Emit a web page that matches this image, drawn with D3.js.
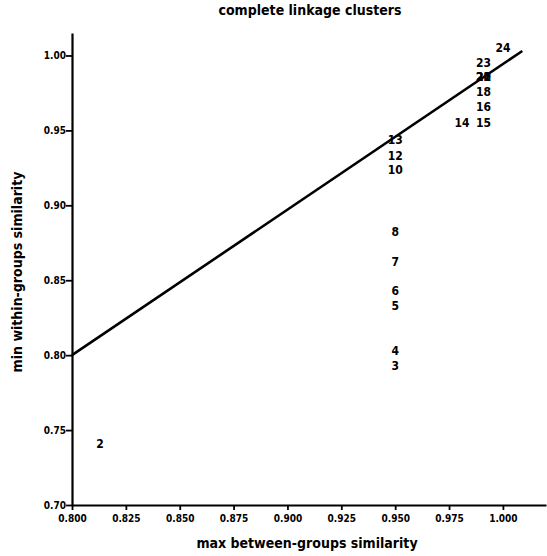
<!DOCTYPE html>
<html>
<head>
<meta charset="utf-8">
<script src="https://cdn.jsdelivr.net/npm/d3@7"></script>
<style>
  body { margin: 0; background: #fff; }
  svg text { font-family: "DejaVu Sans", "Liberation Sans", sans-serif; font-stretch: condensed; font-weight: bold; fill: #000; }
</style>
</head>
<body>
<div id="vis"></div>
<script>
// number of clusters, and the similarity pair
const clusterLabels = ["2", "3", "4", "5", "6", "7", "8", "10", "12", "13", "14", "15", "16", "18", "20", "21", "22", "23", "24"];
const maxBetween = [0.813, 0.950, 0.950, 0.950, 0.950, 0.950, 0.950, 0.950, 0.950, 0.950, 0.981, 0.991, 0.991, 0.991, 0.991, 0.991, 0.991, 0.991, 1.000];
const minWithin = [0.741, 0.793, 0.803, 0.833, 0.843, 0.862, 0.882, 0.924, 0.933, 0.944, 0.955, 0.955, 0.966, 0.976, 0.986, 0.986, 0.986, 0.995, 1.005];

// reference line
const refX = [0.800, 1.009];
const refY = [0.800, 1.003];

const xTicks = [0.800, 0.825, 0.850, 0.875, 0.900, 0.925, 0.950, 0.975, 1.000];
const yTicks = [0.70, 0.75, 0.80, 0.85, 0.90, 0.95, 1.00];

const width = 547, height = 556;

const svg = d3.select("#vis").append("svg")
  .attr("width", width)
  .attr("height", height);

const x = d3.scaleLinear().domain([0.8, 1.02]).range([72, 546]);
const y = d3.scaleLinear().domain([0.7, 1.015]).range([505, 33]);

// axes
const xAxis = svg.append("g")
  .attr("transform", `translate(0,${y(0.7)})`)
  .call(d3.axisBottom(x).tickValues(xTicks).tickFormat(d3.format(".3f")).tickSize(5).tickSizeOuter(0));

const yAxis = svg.append("g")
  .attr("transform", `translate(${x(0.8)},0)`)
  .call(d3.axisLeft(y).tickValues(yTicks).tickFormat(d3.format(".2f")).tickSize(6).tickSizeOuter(0));

[xAxis, yAxis].forEach(a => {
  a.select(".domain").attr("stroke", "#000").attr("stroke-width", 2.2);
  a.selectAll(".tick line").attr("stroke", "#000").attr("stroke-width", 1.8);
  a.selectAll(".tick text").style("font-size", "10px").attr("fill", "#000");
});
xAxis.selectAll(".tick text").attr("dy", "0.9em");
yAxis.selectAll(".tick text").attr("x", -6).attr("dx", 0);

// reference line
svg.append("line")
  .attr("x1", x(refX[0])).attr("y1", y(refY[0]))
  .attr("x2", x(refX[1])).attr("y2", y(refY[1]))
  .attr("stroke", "#000")
  .attr("stroke-width", 2.6);

// cluster labels as markers
svg.append("g").selectAll("text")
  .data(clusterLabels)
  .join("text")
  .attr("x", (d, i) => x(maxBetween[i]))
  .attr("y", (d, i) => y(minWithin[i]))
  .attr("text-anchor", "middle")
  .attr("dy", "0.35em")
  .style("font-size", "12px")
  .text(d => d);

// titles
svg.append("text")
  .attr("x", 310).attr("y", 15)
  .attr("text-anchor", "middle")
  .style("font-size", "14px")
  .text("complete linkage clusters");

svg.append("text")
  .attr("x", 307).attr("y", 548)
  .attr("text-anchor", "middle")
  .style("font-size", "14px")
  .text("max between-groups similarity");

svg.append("text")
  .attr("transform", "translate(22,272) rotate(-90)")
  .attr("text-anchor", "middle")
  .style("font-size", "14px")
  .text("min within-groups similarity");
</script>
</body>
</html>
